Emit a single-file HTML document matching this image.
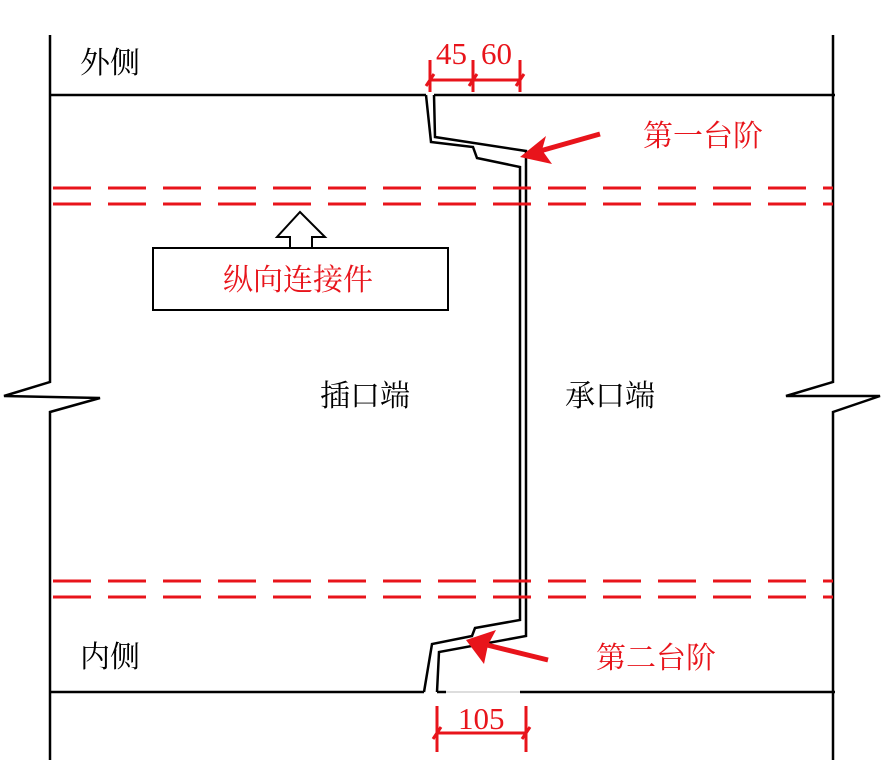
<!DOCTYPE html>
<html><head><meta charset="utf-8"><style>
body{margin:0;background:#fff}
svg text{font-family:"Liberation Serif","Noto Serif CJK SC","Noto Sans CJK SC",serif;}
</style></head><body>
<svg width="886" height="768" viewBox="0 0 886 768" xmlns="http://www.w3.org/2000/svg">
<g fill="none" stroke="#000" stroke-width="2.5">
<polyline points="50,35 50,382 4,396 100,398 50,412 50,760"/>
<polyline points="833,35 833,382 786,396 880,396 833,412 833,760"/>
<line x1="50" y1="95" x2="426" y2="95"/>
<line x1="434" y1="95" x2="835" y2="95"/>
<polyline points="426,95 431,142 473,147 477,158 520,167 520,620 475,628 472,636 432,644 424,692"/>
<polyline points="434,95 435,137 526,151 526,636 439,652 437,692"/>
<line x1="50" y1="692" x2="424" y2="692"/>
<line x1="437" y1="692" x2="446" y2="692"/>
<line x1="520" y1="692" x2="835" y2="692"/>
<rect x="153" y="248" width="295" height="62" stroke-width="2"/>
<polygon points="300,212 325,237 312,237 312,248 290,248 290,237 277,237" stroke-width="2"/>
</g>
<line x1="446" y1="692" x2="520" y2="692" stroke="#bbb" stroke-width="1"/>
<g stroke="#e8141b" stroke-width="3" stroke-dasharray="38,17">
<line x1="53" y1="188" x2="833" y2="188"/>
<line x1="53" y1="204" x2="833" y2="204"/>
<line x1="53" y1="581" x2="833" y2="581"/>
<line x1="53" y1="597" x2="833" y2="597"/>
</g>
<g stroke="#e8141b" stroke-width="3">
<line x1="430" y1="60" x2="430" y2="92"/>
<line x1="473" y1="60" x2="473" y2="92"/>
<line x1="520" y1="60" x2="520" y2="92"/>
<line x1="430" y1="80" x2="520" y2="80"/>
<line x1="426" y1="86" x2="434" y2="74"/>
<line x1="469" y1="86" x2="477" y2="74"/>
<line x1="516" y1="86" x2="524" y2="74"/>
<line x1="437" y1="706" x2="437" y2="752"/>
<line x1="526" y1="706" x2="526" y2="752"/>
<line x1="437" y1="733" x2="526" y2="733"/>
<line x1="433" y1="739" x2="441" y2="727"/>
<line x1="522" y1="739" x2="530" y2="727"/>
<line x1="600" y1="134" x2="540" y2="151" stroke-width="5"/>
<line x1="548" y1="660" x2="487" y2="645" stroke-width="5"/>
</g>
<polygon points="520,157 546,136 542,150 552,164" fill="#e8141b"/>
<polygon points="466,640 496,630 488,645 484,664" fill="#e8141b"/>
<g fill="#e8141b" font-size="31">
<text x="436" y="64">45</text>
<text x="481" y="64">60</text>
<text x="458" y="729">105</text>
</g>
<g font-size="30" style="font-family:'Liberation Sans','Noto Sans CJK SC',sans-serif">
<text x="80" y="73">外侧</text>
<text x="80" y="667">内侧</text>
<text x="320" y="406">插口端</text>
<text x="565" y="406">承口端</text>
<text x="223" y="290" fill="#e8141b">纵向连接件</text>
<text x="643" y="146" fill="#e8141b">第一台阶</text>
<text x="596" y="668" fill="#e8141b">第二台阶</text>
</g>
</svg>
</body></html>
